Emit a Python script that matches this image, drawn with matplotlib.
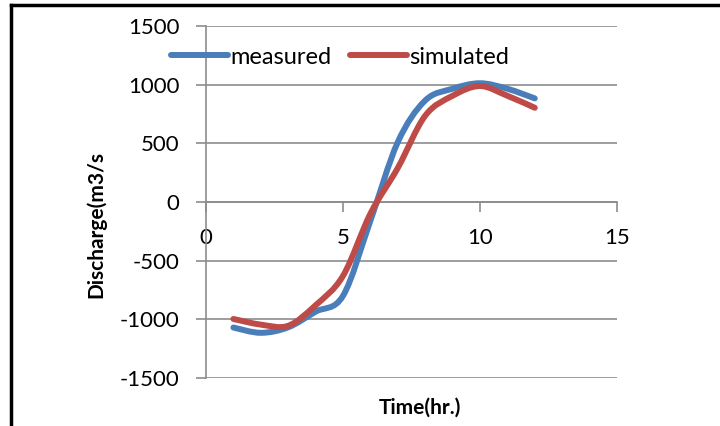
import matplotlib
matplotlib.use("Agg")
import matplotlib.pyplot as plt
import numpy as np
from matplotlib.path import Path
from matplotlib.patches import PathPatch
from matplotlib.lines import Line2D

plt.rcParams['font.family'] = ['Lato', 'DejaVu Sans']
plt.rcParams['axes.unicode_minus'] = False

# hourly discharge, measured vs simulated
hours = [1, 2, 3, 4, 5, 6, 7, 8, 9, 10, 11, 12]
measured = [-1070, -1115, -1068, -935, -800, -160, 510, 865, 965, 1012, 965, 883]
simulated = [-997, -1045, -1055, -880, -630, -100, 290, 735, 905, 988, 905, 803]

x_ticks = [0, 5, 10, 15]
y_ticks = [-1500, -1000, -500, 0, 500, 1000, 1500]


def smooth_path(xs, ys, k=1 / 6):
    # Catmull-Rom style Bezier segments through every data point
    pts = np.column_stack([xs, ys]).astype(float)
    verts = [pts[0]]
    codes = [Path.MOVETO]
    n = len(pts)
    for i in range(n - 1):
        p0 = pts[max(i - 1, 0)]
        p1 = pts[i]
        p2 = pts[i + 1]
        p3 = pts[min(i + 2, n - 1)]
        c1 = p1 + (p2 - p0) * k
        c2 = p2 - (p3 - p1) * k
        verts += [c1, c2, p2]
        codes += [Path.CURVE4] * 3
    return Path(verts, codes)


fig = plt.figure(figsize=(7.2, 4.26), dpi=100)
ax = fig.add_axes([0.2861, 0.1127, 0.5708, 0.8263])

for ys, color, name in [(measured, '#4A7EBB', 'measured'),
                        (simulated, '#BE4B48', 'simulated')]:
    patch = PathPatch(smooth_path(hours, ys), facecolor='none',
                      edgecolor=color, lw=4.3, capstyle='round',
                      joinstyle='round', zorder=3)
    ax.add_patch(patch)
    ax.plot([], [], color=color, lw=4.3, solid_capstyle='round', label=name)

ax.set_xlim(0, 15)
ax.set_ylim(-1500, 1500)
ax.set_xticks(x_ticks)
ax.set_yticks(y_ticks)
ax.yaxis.grid(True, color='#8C8C8C', lw=1.2)
ax.set_axisbelow(True)

for side in ['top', 'right']:
    ax.spines[side].set_visible(False)
ax.spines['bottom'].set_position(('data', 0))
ax.spines['bottom'].set_color('#8C8C8C')
ax.spines['left'].set_color('#8C8C8C')
ax.spines['bottom'].set_linewidth(1.2)
ax.spines['left'].set_linewidth(1.2)
ax.tick_params(axis='both', colors='#8C8C8C', length=7, width=1.2,
               labelsize=16, labelcolor='black')
ax.tick_params(axis='x', direction='out', pad=12)
ax.tick_params(axis='y', direction='out', pad=12)

fig.text(0.134, 0.472, 'Discharge(m3/s', rotation=90, fontsize=15,
         fontweight='bold', ha='center', va='center')
fig.text(0.583, 0.042, 'Time(hr.)', fontsize=15, fontweight='bold',
         ha='center', va='center')

ax.legend(loc='center', bbox_to_anchor=(0.472, 0.866),
          bbox_transform=fig.transFigure, ncol=2, frameon=False,
          fontsize=17, handlelength=2.4, handletextpad=0.1,
          columnspacing=0.8, borderaxespad=0)

# black frame on the top and left edges
fig.add_artist(Line2D([0.0146, 1.0], [0.9871, 0.9871], color='black',
                      lw=2.5, transform=fig.transFigure))
fig.add_artist(Line2D([0.0146, 0.0146], [0.0, 0.9871], color='black',
                      lw=2.5, transform=fig.transFigure))

fig.savefig('out.png', dpi=100)
